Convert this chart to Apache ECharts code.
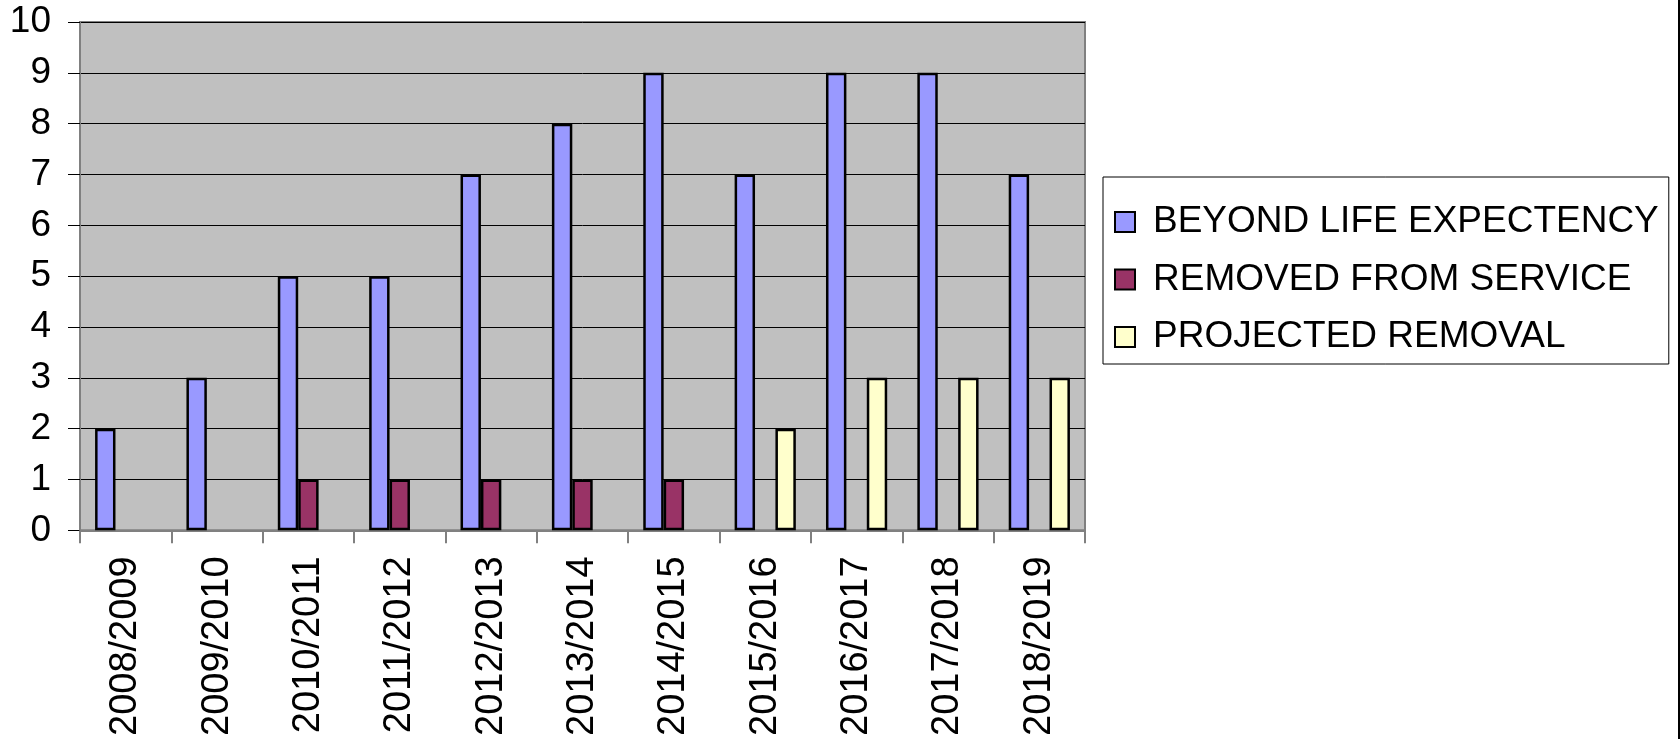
<!DOCTYPE html>
<html>
<head>
<meta charset="utf-8">
<script src="https://cdn.jsdelivr.net/npm/echarts@6/dist/echarts.min.js"></script>
<style>
  html, body { margin: 0; padding: 0; background: #fff; }
  #chart { width: 1678px; height: 739px; border-right: 2px solid #000; }
</style>
</head>
<body>
<div id="chart"></div>
<script>
const years = ['2008/2009', '2009/2010', '2010/2011', '2011/2012', '2012/2013', '2013/2014',
  '2014/2015', '2015/2016', '2016/2017', '2017/2018', '2018/2019']
const beyondLife = [2, 3, 5, 5, 7, 8, 9, 7, 9, 9, 7]
const removed = [null, null, 1, 1, 1, 1, 1, null, null, null, null]
const projected = [null, null, null, null, null, null, null, 2, 3, 3, 3]
const yTicks = { min: 0, max: 10, interval: 1 }

const FONT = '"Liberation Sans", Arial, sans-serif'
const barBorder = { borderColor: '#000', borderWidth: 2.5 }

const chart = echarts.init(document.getElementById('chart'))
chart.setOption({
  animation: false,
  textStyle: { fontFamily: FONT },
  grid: {
    left: 80, right: 593, top: 22, bottom: 208,
    show: true, backgroundColor: '#C0C0C0', borderColor: '#808080', borderWidth: 2,
  },
  legend: {
    orient: 'vertical', left: 1103, top: 177,
    padding: [25, 10, 7, 11], itemGap: 17.5,
    itemWidth: 20, itemHeight: 20, icon: 'rect',
    borderColor: '#000', borderWidth: 1,
    textStyle: { fontSize: 37, color: '#000', lineHeight: 40, padding: [0, 0, 0, 13] },
    data: ['BEYOND LIFE EXPECTENCY', 'REMOVED FROM SERVICE', 'PROJECTED REMOVAL'],
  },
  xAxis: {
    type: 'category', data: years,
    axisLine: { lineStyle: { color: '#808080', width: 2 } },
    axisTick: { show: true, length: 13, lineStyle: { color: '#808080', width: 2 } },
    axisLabel: { rotate: 90, fontSize: 38, color: '#000', margin: 26, interval: 0 },
  },
  yAxis: {
    type: 'value', min: yTicks.min, max: yTicks.max, interval: yTicks.interval,
    axisLine: { show: true, lineStyle: { color: '#808080', width: 2 } },
    axisTick: { show: true, length: 12, lineStyle: { color: '#000', width: 1 } },
    axisLabel: { fontSize: 37, color: '#000', margin: 29 },
    splitLine: { show: true, lineStyle: { color: '#000', width: 1 } },
  },
  series: [
    { name: 'BEYOND LIFE EXPECTENCY', type: 'bar', data: beyondLife,
      barGap: '0%', barCategoryGap: '33%',
      itemStyle: Object.assign({ color: '#9999FF' }, barBorder) },
    { name: 'REMOVED FROM SERVICE', type: 'bar', data: removed,
      itemStyle: Object.assign({ color: '#993366' }, barBorder) },
    { name: 'PROJECTED REMOVAL', type: 'bar', data: projected,
      itemStyle: Object.assign({ color: '#FFFFCC' }, barBorder) },
  ],
})
</script>
</body>
</html>
